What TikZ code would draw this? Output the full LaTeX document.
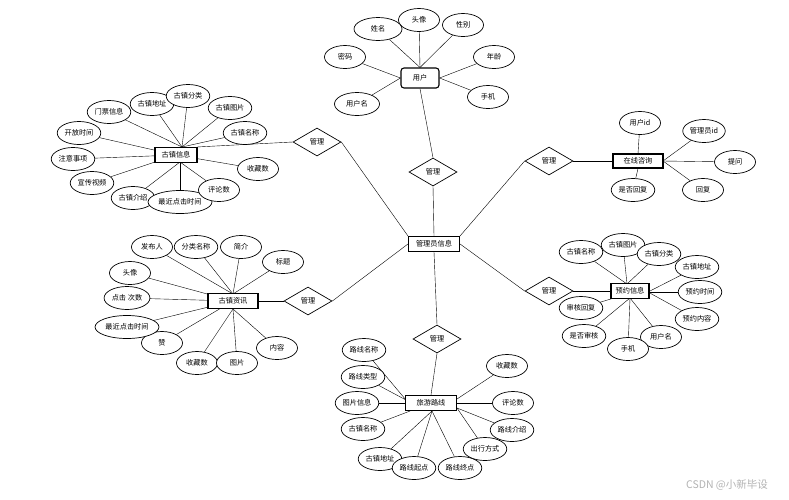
\documentclass[tikz,border=0pt]{standalone}
\usepackage{fontspec}
\newfontfamily\cjk{Noto Sans CJK SC}
\usetikzlibrary{shapes.geometric,backgrounds}
\tikzset{
  attr/.style={ellipse,draw,fill=white,line width=0.7pt,inner xsep=1pt,inner ysep=0pt,minimum width=41pt,minimum height=23pt,font=\cjk\fontsize{7.2}{8}\selectfont},
  ent/.style={rectangle,draw,fill=white,line width=1.1pt,inner sep=0pt,minimum height=15pt,font=\cjk\fontsize{7.2}{8}\selectfont},
  rel/.style={diamond,draw,fill=white,line width=0.7pt,inner sep=0pt,minimum width=48pt,minimum height=28pt,font=\cjk\fontsize{7.2}{8}\selectfont},
  con/.style={line width=0.7pt}
}
\begin{document}
\begin{tikzpicture}[x=1pt,y=-1pt]
\useasboundingbox (0,0) rectangle (789,499);
% ---------- central ----------
\node[ent,minimum width=51pt] (admin) at (434,244) {管理员信息};
\node[rel] (dtop) at (433,172) {管理};
\node[rel] (dgx) at (317,142) {管理};
\node[rel] (dzx) at (308,301) {管理};
\node[rel] (dxl) at (437,339) {管理};
\node[rel] (dzq) at (549,161) {管理};
\node[rel] (dyy) at (549,291) {管理};
% ---------- user ----------
\node[ent,rounded corners=3pt,minimum width=38pt,minimum height=20pt] (user) at (420,78) {用户};
\node[attr] (u1) at (419,20) {头像};
\node[attr,minimum width=48pt] (u2) at (378,29) {姓名};
\node[attr] (u3) at (463,25) {性别};
\node[attr] (u4) at (345,57) {密码};
\node[attr] (u5) at (494,57) {年龄};
\node[attr,minimum width=45pt] (u6) at (357,104) {用户名};
\node[attr] (u7) at (488,97) {手机};
% ---------- gu zhen xin xi ----------
\node[ent,minimum width=42pt] (gx) at (176,155) {古镇信息};
\coordinate (gxT) at (182,147);
\coordinate (gxB) at (180,162);
\node[attr] (g1) at (109,112) {门票信息};
\node[attr] (g2) at (152,104) {古镇地址};
\node[attr] (g4) at (230,108) {古镇图片};
\node[attr] (g3) at (188,96) {古镇分类};
\node[attr] (g5) at (245,133) {古镇名称};
\node[attr] (g6) at (79,133) {开放时间};
\node[attr] (g7) at (73,159) {注意事项};
\node[attr] (g8) at (92,183) {宣传视频};
\node[attr] (g9) at (133,198) {古镇介绍};
\node[attr] (g10) at (180,202) {最近点击时间};
\node[attr] (g11) at (219,190) {评论数};
\node[attr] (g12) at (258,169) {收藏数};
% ---------- gu zhen zi xun ----------
\node[ent,minimum width=50pt] (zx) at (233,301) {古镇资讯};
\coordinate (zxT) at (233,294);
\coordinate (zxB) at (233,309);
\node[attr] (z1) at (152,247) {发布人};
\node[attr] (z3) at (241,247) {简介};
\node[attr] (z2) at (196,247) {分类名称};
\node[attr] (z4) at (283,262) {标题};
\node[attr] (z5) at (130,273) {头像};
\node[attr] (z6) at (127,298) {点击 次数};
\node[attr] (z8) at (162,343) {赞};
\node[attr] (z7) at (127,327) {最近点击时间};
\node[attr] (z9) at (197,363) {收藏数};
\node[attr] (z10) at (237,363) {图片};
\node[attr] (z11) at (277,348) {内容};
% ---------- lv you lu xian ----------
\node[ent,minimum width=51pt] (xl) at (431,403) {旅游路线};
\coordinate (xlL) at (406,400);
\coordinate (xlB) at (432,411);
\coordinate (xlR) at (457,408);
\coordinate (xlR2) at (457,399);
\node[attr] (x1) at (364,350) {路线名称};
\node[attr] (x2) at (363,377) {路线类型};
\node[attr] (x3) at (357,403) {图片信息};
\node[attr] (x4) at (363,429) {古镇名称};
\node[attr] (x5) at (380,459) {古镇地址};
\node[attr] (x7) at (460,468) {路线终点};
\node[attr] (x6) at (414,468) {路线起点};
\node[attr] (x8) at (485,449) {出行方式};
\node[attr] (x9) at (512,430) {路线介绍};
\node[attr] (x10) at (513,403) {评论数};
\node[attr] (x11) at (507,366) {收藏数};
% ---------- zai xian zi xun ----------
\node[ent,minimum width=50pt,minimum height=14pt] (zq) at (638,161) {在线咨询};
\coordinate (zqR) at (663,161);
\node[attr] (q1) at (640,123) {用户id};
\node[attr] (q2) at (704,131) {管理员id};
\node[attr] (q3) at (735,162) {提问};
\node[attr] (q4) at (703,190) {回复};
\node[attr] (q5) at (633,190) {是否回复};
% ---------- yu yue xin xi ----------
\node[ent,minimum width=38pt] (yy) at (630,291) {预约信息};
\coordinate (yyT) at (627,284);
\coordinate (yyB) at (630,298);
\coordinate (yyR) at (648,292);
\coordinate (yyBL) at (614,298);
\node[attr] (y1) at (581,252) {古镇名称};
\node[attr] (y2) at (623,245) {古镇图片};
\node[attr] (y3) at (659,254) {古镇分类};
\node[attr] (y4) at (697,267) {古镇地址};
\node[attr] (y5) at (700,292) {预约时间};
\node[attr] (y6) at (697,319) {预约内容};
\node[attr] (y7) at (661,337) {用户名};
\node[attr] (y8) at (628,349) {手机};
\node[attr] (y9) at (584,336) {是否审核};
\node[attr] (y10) at (581,308) {审核回复};
% ---------- watermark ----------
\node[font=\fontsize{10.5}{12}\selectfont\cjk,text=black!30,inner sep=0pt] (wm) at (727,485) {CSDN @小新毕设};
% ---------- connectors ----------
\begin{scope}[on background layer,con]
\draw (user.south) -- (dtop.north);
\draw (dtop.south) -- (admin.north);
\draw (admin.south) -- (dxl.north);
\draw (admin.north west) -- (dgx.east);
\draw (admin.west) -- (dzx.east);
\draw (admin.north east) -- (dzq.west);
\draw (admin.east) -- (dyy.west);
\draw (dgx.west) -- (gx.north east);
\draw (dzx.west) -- (zx.east);
\draw (dxl.south) -- (xl.north);
\draw (dzq.east) -- (zq.west);
\draw (dyy.east) -- (yy.west);
% user
\foreach \a in {u1,u2,u3} \draw (\a) -- (user.north);
\foreach \a in {u4,u6} \draw (\a) -- (user.west);
\foreach \a in {u5,u7} \draw (\a) -- (user.east);
% gx
\foreach \a in {g1,g2,g3,g4,g5} \draw (\a) -- (gxT);
\foreach \a in {g6,g7,g8,g12} \draw (\a) -- (gx);
\foreach \a in {g9,g10,g11} \draw (\a) -- (gxB);
% zx
\foreach \a in {z1,z2,z3,z4} \draw (\a) -- (zxT);
\foreach \a in {z5,z6,z7,z8} \draw (\a) -- (zx);
\foreach \a in {z9,z10,z11} \draw (\a) -- (zxB);
% xl
\foreach \a in {x1,x2} \draw (\a) -- (xlL);
\foreach \a in {x3,x4,x10} \draw (\a) -- (xl);
\foreach \a in {x5,x6,x7} \draw (\a) -- (xlB);
\foreach \a in {x8,x9} \draw (\a) -- (xlR);
\draw (x11) -- (xlR2);
% zq
\draw (q1) -- (zq.north);
\draw (q5) -- (zq.south);
\foreach \a in {q2,q3,q4} \draw (\a) -- (zqR);
% yy
\foreach \a in {y1,y2,y3} \draw (\a) -- (yyT);
\foreach \a in {y4,y5,y6} \draw (\a) -- (yyR);
\foreach \a in {y7,y8,y9} \draw (\a) -- (yyB);
\draw (y10) -- (yyBL);
\end{scope}
\end{tikzpicture}
\end{document}
